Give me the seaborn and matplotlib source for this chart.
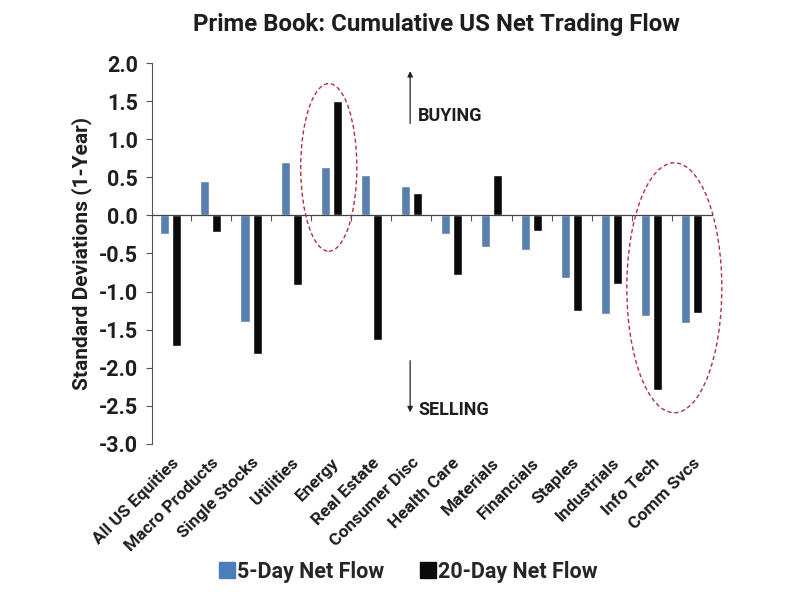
import pandas as pd
import numpy as np
import matplotlib.pyplot as plt
import seaborn as sns
from matplotlib.patches import Ellipse
from matplotlib.lines import Line2D

# data
sectors = ["All US Equities", "Macro Products", "Single Stocks", "Utilities", "Energy",
           "Real Estate", "Consumer Disc", "Health Care", "Materials", "Financials",
           "Staples", "Industrials", "Info Tech", "Comm Svcs"]
flow_5d = [-0.24, 0.45, -1.40, 0.70, 0.64, 0.53, 0.39, -0.25, -0.42, -0.46, -0.82, -1.29, -1.32, -1.41]
flow_20d = [-1.71, -0.22, -1.82, -0.91, 1.50, -1.63, 0.29, -0.78, 0.53, -0.21, -1.25, -0.90, -2.29, -1.28]
series_names = ["5-Day Net Flow", "20-Day Net Flow"]

blue = "#4A7EBB"
black = "#0A0A0A"
txt = "#1E1E1E"

df = pd.DataFrame({
    "sector": sectors * 2,
    "value": flow_5d + flow_20d,
    "series": [series_names[0]] * len(sectors) + [series_names[1]] * len(sectors),
})

sns.set_style("white")
plt.rcParams['font.family'] = ['Roboto', 'DejaVu Sans']

fig = plt.figure(figsize=(8, 6), dpi=100)
ax = fig.add_axes([0.19, 0.26, 0.701, 0.635])

sns.barplot(data=df, x="sector", y="value", hue="series", palette=[blue, black],
            width=0.6, gap=0.25, ax=ax, legend=False)

ax.set_xlim(-0.47, 13.52)
ax.set_ylim(-3.0, 2.0)
yt = np.arange(-3.0, 2.01, 0.5)
ax.set_yticks(yt)
ax.set_yticklabels([f"{v:.1f}" for v in yt], fontsize=15.5, fontweight="bold", color=txt)
ax.tick_params(axis="y", direction="out", length=4, color="#555555", pad=6, left=True)
ax.set_xticks(range(len(sectors)))
ax.set_xticklabels(sectors, rotation=45, ha="right", rotation_mode="anchor",
                   fontsize=12.5, fontweight="bold", color=txt)
ax.tick_params(axis="x", length=0, pad=8)
ax.set_xlabel("")
ax.set_ylabel("Standard Deviations (1-Year)", fontsize=15, fontweight="bold",
              color=txt, labelpad=5)

for s in ["top", "right", "bottom"]:
    ax.spines[s].set_visible(False)
ax.spines["left"].set_color("#555555")
ax.spines["left"].set_linewidth(0.8)

# zero line with category boundary ticks
ax.axhline(0, color="#444444", lw=0.9, zorder=3)
ax.plot(np.arange(0.5, len(sectors) - 0.5), np.zeros(len(sectors) - 1), ls="",
        marker=3, ms=4, color="#555555", mew=0.8, zorder=3)

# buying / selling arrows
ax.annotate("", xy=(5.97, 1.93), xytext=(5.97, 1.17),
            arrowprops=dict(arrowstyle="-|>", color="#222222", lw=0.9, mutation_scale=8))
ax.text(6.17, 1.30, "BUYING", fontsize=13, fontweight="bold", color=txt, va="center")
ax.annotate("", xy=(5.97, -2.62), xytext=(5.97, -1.87),
            arrowprops=dict(arrowstyle="-|>", color="#222222", lw=0.9, mutation_scale=8))
ax.text(6.17, -2.55, "SELLING", fontsize=13, fontweight="bold", color=txt, va="center")

# dashed highlight ellipses
ax.add_patch(Ellipse((3.94, 0.63), 1.40, 2.2, fill=False, ls=(0, (3, 2)),
                     ec="#B03040", lw=1.0, clip_on=False, zorder=4))
ax.add_patch(Ellipse((12.56, -0.95), 2.37, 3.28, fill=False, ls=(0, (3, 2)),
                     ec="#B03040", lw=1.0, clip_on=False, zorder=4))

fig.suptitle("Prime Book: Cumulative US Net Trading Flow", x=0.545, y=0.978,
             fontsize=17.3, fontweight="bold", color=txt)

handles = [Line2D([], [], ls="", marker="s", ms=11, color=c) for c in (blue, black)]
fig.legend(handles, series_names, loc="center", bbox_to_anchor=(0.51, 0.047), ncol=2,
           frameon=False, handletextpad=0.1, columnspacing=1.6,
           handlelength=0.8, prop={"weight": "bold", "size": 15.5})

fig.savefig("out.png", dpi=100, facecolor="white")
